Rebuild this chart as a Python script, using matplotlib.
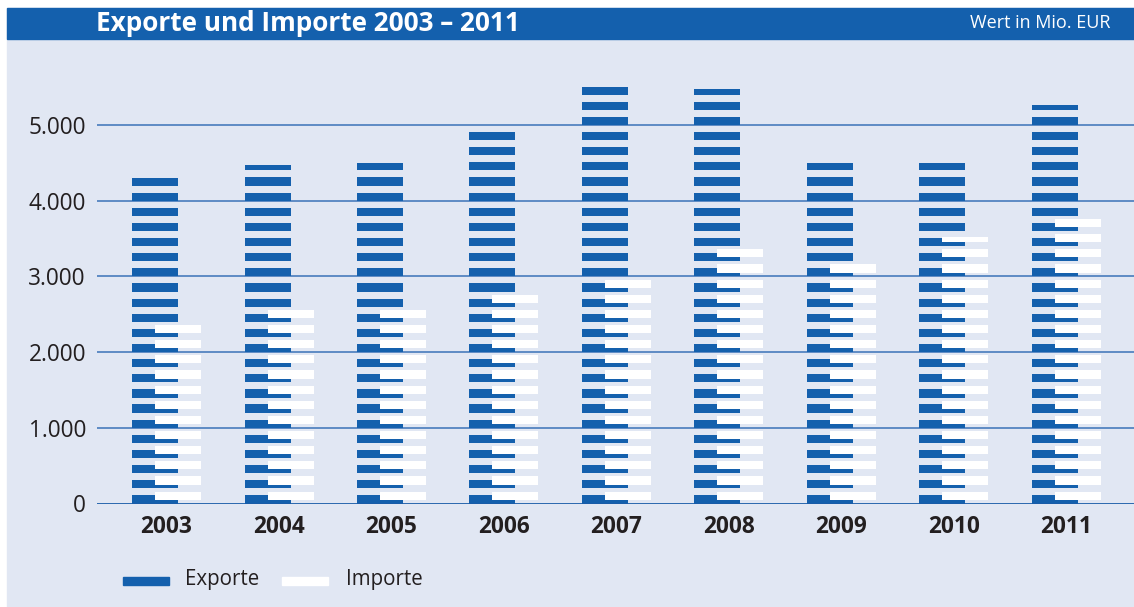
import numpy as np
import matplotlib
matplotlib.use("Agg")
import matplotlib.pyplot as plt
from matplotlib.patches import Rectangle
from matplotlib.ticker import FuncFormatter

# data (Mio. EUR)
years = ["2003", "2004", "2005", "2006", "2007", "2008", "2009", "2010", "2011"]
exporte = [4300, 4465, 4500, 4920, 5520, 5480, 4500, 4500, 5265]
importe = [2360, 2560, 2560, 2760, 2960, 3360, 3160, 3515, 3760]
yticks = [0, 1000, 2000, 3000, 4000, 5000]

BLUE = "#1460ad"
BG = "#e1e7f3"
TXT = "#231f20"
FONT = "Open Sans"

W, H = 1134, 607
fig = plt.figure(figsize=(W / 100, H / 100), dpi=100, facecolor="white")

# background + title bar
fig.patches.append(Rectangle((7 / W, 0), 1 - 7 / W, (H - 8) / H,
                             transform=fig.transFigure, color=BG, zorder=-2))
fig.patches.append(Rectangle((7 / W, (H - 39) / H), 1 - 7 / W, 31 / H,
                             transform=fig.transFigure, color=BLUE, zorder=-1))
fig.text(96 / W, (H - 23.5) / H, "Exporte und Importe 2003 \u2013 2011", color="white",
         fontsize=18.8, fontweight="bold", family=FONT, va="center", ha="left")
fig.text(1110 / W, (H - 23.5) / H, "Wert in Mio. EUR", color="white",
         fontsize=13, family=FONT, va="center", ha="right")

# axes placed so that 0 sits at y=503.5 px and 1000 units = 75.7 px
ymax = 5600
y0 = 503.5
ax = fig.add_axes([97 / W, (H - y0) / H, 1 - 97 / W, ymax / 1000 * 75.7 / H])
ax.set_facecolor("none")
ax.set_zorder(2)
ax.set_ylim(0, ymax)
step = 112.5
first = 166.5
ax.set_xlim(-(first - 97) / step, (W - first) / step)

x = np.arange(len(years))
bw = 46 / step
off = 11.5 / step


def striped(xpos, vals, start, color):
    # each bar is cut into horizontal stripes, 200 units apart
    for xi, v in zip(xpos, vals):
        bottoms = np.arange(start, v, 200.0)
        heights = np.minimum(108.0, v - bottoms)
        ax.bar(np.full(len(bottoms), xi), heights, bottom=bottoms, width=bw,
               color=color, linewidth=0, zorder=3)


striped(x - off, exporte, 0.0, BLUE)
striped(x + off, importe, 50.0, "white")

for t in yticks[1:]:
    ax.axhline(t, color="#3a72b8", lw=1.1, zorder=1)
ax.axhline(0, color="#1a5ca8", lw=2.0, zorder=4)

for s in ax.spines.values():
    s.set_visible(False)
ax.set_yticks(yticks)
ax.yaxis.set_major_formatter(FuncFormatter(lambda v, p: f"{int(v):,}".replace(",", ".")))
ax.set_xticks(x)
ax.set_xticklabels(years)
ax.tick_params(axis="y", length=0, pad=8, labelsize=16.3, labelcolor=TXT)
ax.tick_params(axis="x", length=0, pad=8.5, labelsize=16.3, labelcolor=TXT)
for lab in ax.get_yticklabels():
    lab.set_family(FONT)
for lab in ax.get_xticklabels():
    lab.set_family(FONT)
    lab.set_fontweight("bold")

# legend drawn by hand
fig.patches.append(Rectangle((123 / W, (H - 585) / H), 46 / W, 8 / H,
                             transform=fig.transFigure, color=BLUE, zorder=2))
fig.patches.append(Rectangle((282 / W, (H - 585) / H), 46 / W, 8 / H,
                             transform=fig.transFigure, color="white", zorder=2))
fig.text(185 / W, (H - 579) / H, "Exporte", fontsize=14.8, family=FONT, color=TXT,
         va="center", ha="left")
fig.text(346 / W, (H - 579) / H, "Importe", fontsize=14.8, family=FONT, color=TXT,
         va="center", ha="left")

fig.savefig("out.png", dpi=100, facecolor=fig.get_facecolor())
